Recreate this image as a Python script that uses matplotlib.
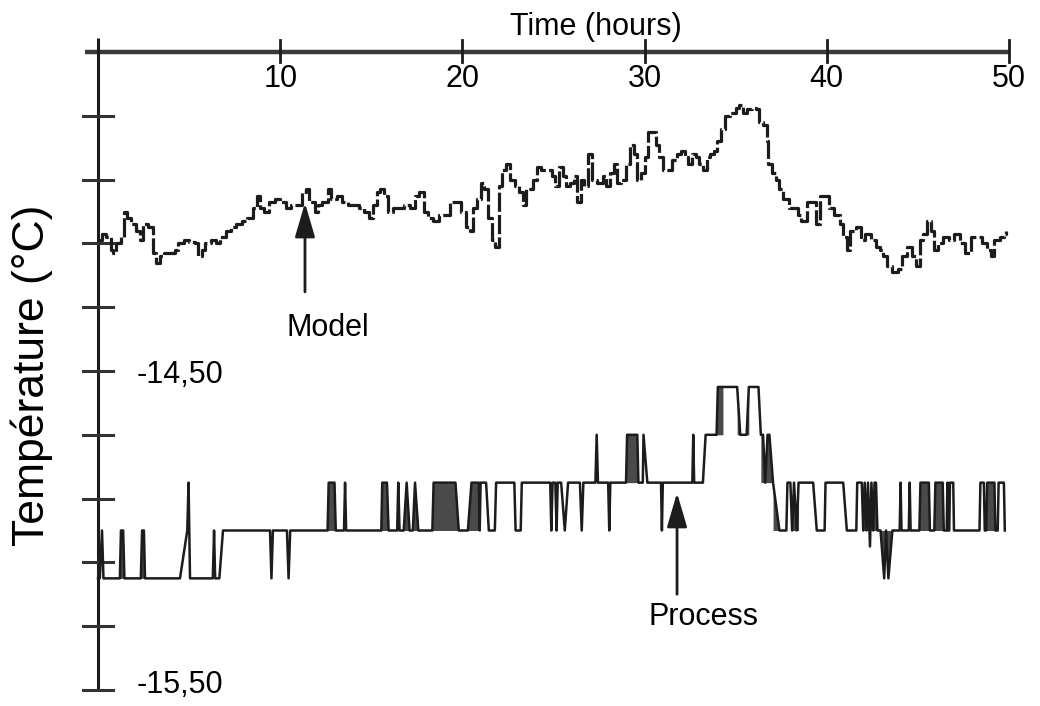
import numpy as np
import matplotlib
matplotlib.use("Agg")
import matplotlib.pyplot as plt

plt.rcParams['font.family'] = ['Liberation Sans', 'DejaVu Sans']

# model output (dashed curve), time in hours, temperature in degC
model_t = [0.0, 0.2, 0.45, 0.7, 0.85, 1.0, 1.25, 1.45, 1.6, 1.8, 2.1, 2.3, 2.45, 2.75,
           3.0, 3.2, 3.4, 3.6, 3.9, 4.2, 4.4, 4.7, 5.0, 5.3, 5.5, 5.7, 5.9, 6.2, 6.5,
           6.7, 7.0, 7.3, 7.6, 7.9, 8.2, 8.5, 8.7, 8.9, 9.1, 9.4, 9.7, 10.0, 10.3, 10.6,
           10.9, 11.2, 11.4, 11.6, 11.9, 12.1, 12.3, 12.6, 12.8, 13.1, 13.4, 13.7, 14.0,
           14.3, 14.6, 14.9, 15.1, 15.3, 15.5, 15.7, 15.9, 16.2, 16.5, 16.8, 17.1, 17.4,
           17.6, 17.9, 18.1, 18.4, 18.7, 19.0, 19.3, 19.6, 19.9, 20.2, 20.4, 20.6, 20.8,
           21.0, 21.2, 21.4, 21.6, 21.8, 22.0, 22.2, 22.4, 22.6, 22.9, 23.1, 23.3, 23.5,
           23.7, 23.9, 24.1, 24.3, 24.6, 24.9, 25.1, 25.3, 25.5, 25.7, 25.9, 26.1, 26.3,
           26.5, 26.7, 26.9, 27.1, 27.4, 27.7, 27.9, 28.1, 28.3, 28.5, 28.7, 29.0, 29.2,
           29.4, 29.6, 29.8, 30.0, 30.2, 30.4, 30.6, 30.8, 31.0, 31.2, 31.5, 31.8, 32.0,
           32.2, 32.4, 32.6, 32.8, 33.0, 33.2, 33.4, 33.6, 33.8, 34.0, 34.2, 34.4, 34.7,
           35.0, 35.2, 35.4, 35.6, 35.9, 36.1, 36.3, 36.5, 36.7, 36.8, 37.0, 37.2, 37.4,
           37.6, 37.9, 38.2, 38.4, 38.6, 38.9, 39.2, 39.4, 39.6, 39.8, 40.1, 40.4, 40.7,
           40.9, 41.1, 41.3, 41.6, 41.9, 42.1, 42.4, 42.7, 42.9, 43.1, 43.3, 43.6, 43.9,
           44.1, 44.4, 44.7, 44.9, 45.1, 45.3, 45.5, 45.7, 45.9, 46.1, 46.4, 46.7, 47.0,
           47.3, 47.6, 47.9, 48.2, 48.5, 48.8, 49.0, 49.2, 49.5, 49.7, 49.85]
model_v = [-14.09, -14.07, -14.08, -14.12, -14.13, -14.10, -14.08, -14.00, -14.02, -14.04,
           -14.06, -14.09, -14.04, -14.05, -14.13, -14.16, -14.14, -14.13, -14.13, -14.12,
           -14.10, -14.09, -14.095, -14.10, -14.14, -14.12, -14.10, -14.09, -14.10, -14.08,
           -14.06, -14.05, -14.04, -14.03, -14.02, -13.99, -13.95, -13.99, -14.00, -13.97,
           -13.96, -13.97, -13.99, -13.98, -13.98, -13.94, -13.93, -13.97, -14.00, -13.98,
           -13.97, -13.93, -13.96, -13.95, -13.97, -13.98, -13.98, -13.99, -14.00, -14.02,
           -13.98, -13.94, -13.93, -13.95, -14.00, -13.99, -13.99, -13.98, -13.99, -13.95,
           -13.94, -14.00, -14.02, -14.03, -14.01, -14.01, -13.97, -13.97, -14.00, -14.05,
           -14.06, -13.99, -13.96, -13.91, -13.93, -14.02, -14.09, -14.11, -13.92, -13.87,
           -13.85, -13.90, -13.92, -13.94, -13.98, -13.93, -13.93, -13.90, -13.86, -13.87,
           -13.87, -13.89, -13.92, -13.86, -13.89, -13.92, -13.91, -13.89, -13.97, -13.90,
           -13.92, -13.82, -13.90, -13.91, -13.89, -13.92, -13.88, -13.85, -13.91, -13.90,
           -13.85, -13.79, -13.82, -13.90, -13.88, -13.83, -13.75, -13.75, -13.79, -13.83,
           -13.87, -13.87, -13.84, -13.82, -13.81, -13.83, -13.85, -13.82, -13.83, -13.85,
           -13.87, -13.83, -13.82, -13.81, -13.78, -13.74, -13.70, -13.69, -13.675, -13.665,
           -13.69, -13.68, -13.675, -13.68, -13.72, -13.73, -13.78, -13.85, -13.88, -13.90,
           -13.93, -13.96, -13.99, -13.99, -14.01, -14.03, -13.97, -13.97, -14.04, -13.95,
           -13.95, -13.99, -14.01, -14.04, -14.08, -14.12, -14.06, -14.05, -14.09, -14.07,
           -14.09, -14.11, -14.12, -14.14, -14.17, -14.19, -14.18, -14.14, -14.11, -14.14,
           -14.17, -14.09, -14.07, -14.03, -14.06, -14.12, -14.10, -14.08, -14.09, -14.07,
           -14.10, -14.13, -14.08, -14.08, -14.10, -14.12, -14.14, -14.09, -14.08, -14.07,
           -14.06]

# measured process temperature (solid, quantised)
proc_t = [0.0, 0.1, 0.22, 0.3, 1.2, 1.26, 1.38, 1.45, 2.35, 2.42, 2.52, 2.58, 4.5, 4.9,
          4.97, 5.05, 6.3, 6.37, 6.43, 6.66, 6.86, 9.44, 9.52, 9.6, 10.37, 10.46, 10.55,
          12.6, 12.66, 12.98, 13.05, 13.5, 13.56, 13.62, 15.55, 15.6, 15.86, 15.95, 16.42,
          16.48, 16.55, 16.78, 16.94, 17.1, 17.28, 17.4, 17.58, 18.35, 18.42, 19.62, 19.8,
          20.3, 20.5, 20.9, 20.95, 21.0, 21.3, 21.45, 21.78, 21.85, 22.85, 22.92, 23.2,
          23.26, 24.82, 24.88, 24.95, 25.1, 25.17, 25.23, 25.42, 25.62, 25.8, 26.45, 26.55,
          26.64, 27.3, 27.37, 27.44, 28.0, 28.06, 28.12, 28.98, 29.04, 29.6, 29.66, 29.9,
          29.94, 30.15, 30.9, 30.95, 31.0, 32.62, 32.67, 32.72, 33.2, 33.35, 33.95, 34.02,
          34.3, 35.08, 35.25, 35.6, 35.72, 36.25, 36.38, 36.5, 36.62, 36.75, 36.85, 37.05,
          37.4, 37.78, 37.84, 38.0, 38.1, 38.2, 38.35, 38.45, 39.25, 39.45, 39.88, 39.93,
          40.9, 41.1, 41.62, 41.67, 41.92, 42.0, 42.08, 42.18, 42.26, 42.37, 42.45, 42.55,
          42.62, 42.7, 42.78, 42.95, 43.15, 43.25, 43.38, 43.6, 44.0, 44.05, 44.1, 44.5,
          44.55, 44.6, 45.08, 45.14, 45.6, 45.66, 45.9, 45.96, 46.36, 46.42, 46.58, 46.62,
          46.66, 46.72, 46.76, 46.94, 46.98, 48.38, 48.43, 48.62, 48.67, 48.75, 48.8,
          49.2, 49.25, 49.38, 49.43, 49.72, 49.77]
proc_v = [-15.15, -15.15, -15.0, -15.15, -15.15, -15.0, -15.0, -15.15, -15.15, -15.0,
          -15.0, -15.15, -15.15, -15.0, -14.85, -15.15, -15.15, -15.0, -15.15, -15.15,
          -15.0, -15.0, -15.15, -15.0, -15.0, -15.15, -15.0, -15.0, -14.85, -14.85, -15.0,
          -15.0, -14.85, -15.0, -15.0, -14.85, -14.85, -15.0, -15.0, -14.85, -15.0, -15.0,
          -14.85, -15.0, -15.0, -14.85, -15.0, -15.0, -14.85, -14.85, -15.0, -15.0, -14.85,
          -14.85, -15.0, -14.85, -14.85, -15.0, -15.0, -14.85, -14.85, -15.0, -15.0,
          -14.85, -14.85, -15.0, -14.85, -14.85, -15.0, -14.85, -14.85, -15.0, -14.85,
          -14.85, -15.0, -14.85, -14.85, -14.7, -14.85, -14.85, -15.0, -14.85, -14.85,
          -14.7, -14.7, -14.85, -14.85, -14.7, -14.85, -14.85, -15.0, -14.85, -14.85,
          -14.7, -14.85, -14.85, -14.7, -14.7, -14.55, -14.55, -14.55, -14.7, -14.7,
          -14.55, -14.55, -14.7, -14.7, -14.85, -14.7, -14.7, -14.85, -15.0, -15.0,
          -14.85, -14.85, -15.0, -14.85, -15.0, -14.85, -14.85, -15.0, -15.0, -14.85,
          -14.85, -15.0, -15.0, -14.85, -14.85, -15.0, -14.85, -15.0, -14.85, -15.05,
          -14.85, -15.0, -14.85, -14.85, -15.0, -15.0, -15.15, -15.0, -15.15, -15.0,
          -15.0, -14.85, -15.0, -15.0, -14.85, -15.0, -15.0, -14.85, -14.85, -15.0,
          -15.0, -14.85, -14.85, -15.0, -15.0, -14.85, -15.0, -15.0, -14.85, -14.85,
          -15.0, -15.0, -14.85, -14.85, -15.0, -15.0, -14.85, -14.85, -15.0, -15.0,
          -14.85, -14.85, -15.0]

# stretches where the recorded signal flickers so fast it prints as a solid band
burst_start = [1.2, 2.35, 12.6, 15.55, 16.78, 17.28, 18.35, 20.3, 28.98, 33.95, 35.08,
               35.6, 36.38, 37.05, 38.0, 41.92, 42.95, 45.08, 45.9, 48.75]
burst_end = [1.45, 2.58, 13.05, 15.95, 17.1, 17.58, 19.8, 20.9, 29.66, 34.3, 35.25,
             35.72, 37.05, 37.4, 38.45, 42.78, 43.6, 45.66, 46.42, 49.25]
burst_base = [-15.15, -15.15, -15.0, -15.0, -15.0, -15.0, -15.0, -15.0, -14.85, -14.7,
              -14.7, -14.7, -14.85, -15.0, -15.0, -15.0, -15.0, -15.0, -15.0, -15.0]

x_ticks = [10, 20, 30, 40, 50]
y_ticks = [-13.7, -13.9, -14.1, -14.3, -14.5, -14.7, -14.9, -15.1, -15.3, -15.5]
y_labels = {-14.5: '-14,50', -15.5: '-15,50'}

ink = '#1c1c1c'

fig = plt.figure(figsize=(10.4, 7.06), dpi=100)
ax = fig.add_axes([0, 0, 1, 1])
# pixel mapping of the scan: x = 98 + 18.22*t, y = 371 + 319*(-14.5 - T)
ax.set_xlim(-98 / 18.22, 942 / 18.22)
ax.set_ylim(-14.5 - 335 / 319, -14.5 + 371 / 319)
ax.axis('off')

# axes drawn by hand (top time axis, left temperature axis)
ax.plot([-0.7, 50], [-13.5, -13.5], color='#3a3a3a', lw=3.2, solid_capstyle='butt')
ax.plot([0, 0], [-13.455, -15.5], color=ink, lw=2.2, solid_capstyle='butt')
for xt in x_ticks:
    ax.plot([xt, xt], [-13.462, -13.53], color=ink, lw=2)
    ax.text(xt, -13.585, str(xt), ha='center', va='center', fontsize=22)
for yt in y_ticks:
    ax.plot([-0.82, 0.82], [yt, yt], color='#333333', lw=2.2)
for yt, lab in y_labels.items():
    ax.text(2.1, max(yt - 0.012, -15.485), lab, ha='left', va='center', fontsize=22)

ax.text(27.3, -13.422, 'Time (hours)', ha='center', va='center', fontsize=22)
ax.text(-3.62, -14.513, 'Température (°C)', rotation=90, ha='center', va='center',
        fontsize=32)

# process curve
pt = np.array(proc_t)
pv = np.array(proc_v)
for a, b, base in zip(burst_start, burst_end, burst_base):
    m = (pt >= a - 1e-9) & (pt <= b + 1e-9)
    ax.fill_between(pt, pv, base, where=m, color='#4a4a4a', lw=0)
ax.plot(pt, pv, color=ink, lw=1.8)

# model curve
ax.plot(model_t, model_v, color=ink, lw=2.3, drawstyle='steps-post',
        linestyle=(0, (6, 1.0)))

# annotations
ax.annotate('', xy=(11.36, -13.973), xytext=(11.36, -14.252),
            arrowprops=dict(arrowstyle='-|>,head_length=0.75,head_width=0.22',
                            color=ink, lw=2, mutation_scale=28, shrinkA=0, shrinkB=0))
ax.text(12.62, -14.365, 'Model', ha='center', va='center', fontsize=22)
ax.annotate('', xy=(31.78, -14.882), xytext=(31.78, -15.2),
            arrowprops=dict(arrowstyle='-|>,head_length=0.75,head_width=0.22',
                            color=ink, lw=2, mutation_scale=28, shrinkA=0, shrinkB=0))
ax.text(33.26, -15.271, 'Process', ha='center', va='center', fontsize=22)

fig.savefig('out.png', dpi=100)
